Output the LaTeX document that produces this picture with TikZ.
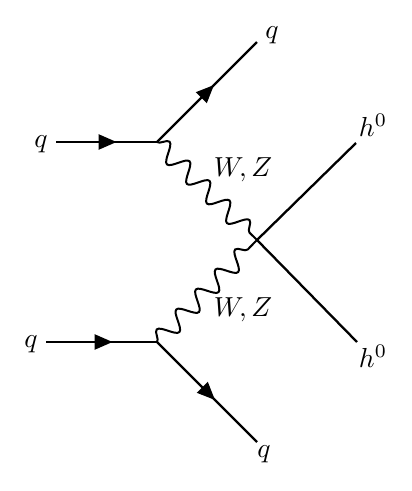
\documentclass[tikz,border=0pt]{standalone}
\usetikzlibrary{decorations.pathmorphing,decorations.markings,arrows.meta}
\begin{document}
\begin{tikzpicture}[x=1pt,y=-1pt,
  fermion/.style={line width=2.3pt,postaction={decorate},
    decoration={markings,mark=at position #1 with {\arrow{Triangle[length=18pt,width=15pt]}}}},
  fermion/.default=0.6,
  scalar/.style={line width=2.3pt},
  boson/.style={line width=2pt,decorate,decoration={snake,amplitude=9pt,segment length=28pt}},
  lab/.style={scale=2.75, inner sep=0pt}]
\useasboundingbox (0,0) rectangle (412,491);
\coordinate (v1) at (157,142);
\coordinate (v2) at (157,342);
\coordinate (vc) at (257,240);
\coordinate (i1) at (56,142);
\coordinate (i2) at (46,342);
\coordinate (o1) at (257,42);
\coordinate (o2) at (257,442);
\coordinate (h1) at (356,143);
\coordinate (h2) at (357,342);
\node[lab] (qi1) at (41,144) {$q$};
\node[lab] (qi2) at (31,344) {$q$};
\node[lab] (qo1) at (272,35) {$q$};
\node[lab] (qo2) at (264,454) {$q$};
\node[lab] (hl1) at (373,125) {$h^0$};
\node[lab] (hl2) at (373,356) {$h^0$};
\node[lab] (wz1) at (243,170) {$W,Z$};
\node[lab] (wz2) at (243,310) {$W,Z$};
\draw[fermion=0.6] (i1) -- (v1);
\draw[fermion=0.57] (v1) -- (o1);
\draw[fermion=0.6] (i2) -- (v2);
\draw[fermion=0.58] (v2) -- (o2);
\draw[scalar] (vc) -- (h1);
\draw[scalar] (vc) -- (h2);
\draw[boson] (v1) -- (vc);
\draw[boson] (v2) -- (vc);
\end{tikzpicture}
\end{document}
